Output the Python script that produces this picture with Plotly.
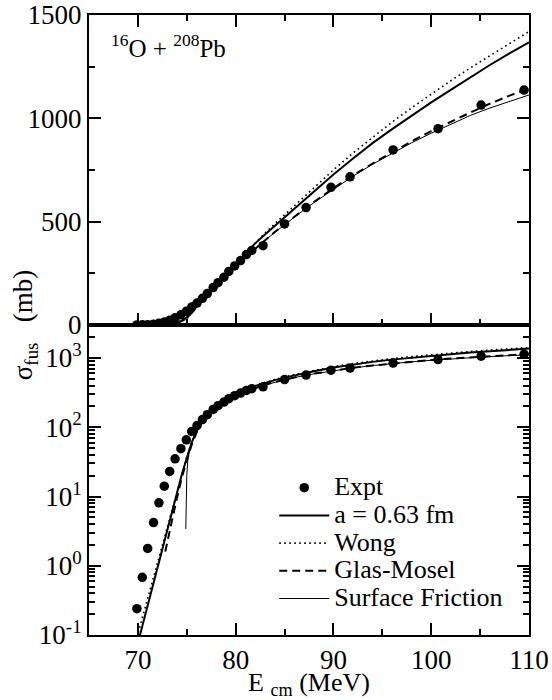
import plotly.graph_objects as go

# ---- data ----
expt_E = [69.9, 70.45, 71.0, 71.6, 72.15, 72.7, 73.25, 73.8, 74.4, 74.95, 75.5, 76.05,
          76.6, 77.1, 77.7, 78.2, 78.8, 79.3, 79.9, 80.5, 81.1, 81.65, 82.8, 85.0, 87.2,
          89.75, 91.7, 96.1, 100.7, 105.1, 109.5]
expt_sigma = [0.24, 0.68, 1.78, 4.2, 8.1, 14.1, 23, 35, 49, 66, 87, 106, 129, 152, 181,
              205, 231, 259, 286, 312, 341, 361, 384, 489, 568, 666, 717, 847, 950, 1064, 1137]

theory_E = [68, 69, 70, 70.5, 71, 71.5, 72, 72.5, 73, 73.5, 74, 74.5, 75, 75.5, 76, 76.5,
            77, 78, 79, 80, 81, 82, 83, 84, 85, 86, 88, 90, 92, 94, 96, 98, 100, 102, 104,
            106, 108, 110]
a063_sigma = [0.0063, 0.022, 0.078, 0.146, 0.273, 0.511, 0.957, 1.79, 3.36, 6.29, 11.8, 21,
              36, 60, 88, 117, 145, 196, 246, 296, 346, 395, 438, 480, 521, 562, 645, 728,
              806, 880, 948, 1013, 1077, 1138, 1199, 1258, 1314, 1368]
wong_sigma = [0.0098, 0.032, 0.106, 0.192, 0.349, 0.632, 1.15, 2.08, 3.77, 6.84, 12.4, 22,
              37.5, 61, 89, 119, 148, 199, 250, 300, 350, 400, 445, 490, 534, 577, 664, 750,
              832, 909, 982, 1051, 1118, 1182, 1244, 1304, 1362, 1420]

gm_E = [72.8, 73, 73.5, 74, 74.5, 75, 75.5, 76, 76.5, 77, 78, 79, 80, 81, 82, 83, 84, 85,
        86, 88, 90, 92, 94, 96, 98, 100, 102, 104, 106, 108, 110]
gm_sigma = [1.6, 2.2, 4.6, 9.5, 19, 33, 56, 84, 113, 141, 190, 238, 284, 328, 370, 411, 450,
            488, 524, 595, 662, 724, 781, 836, 889, 938, 984, 1028, 1071, 1110, 1145]

sf_E = [74.9, 74.95, 75.0, 75.1, 75.3, 75.6, 76, 76.5, 77, 78, 79, 80, 81, 82, 83, 84, 85,
        86, 88, 90, 92, 94, 96, 98, 100, 102, 104, 106, 108, 110]
sf_sigma = [3.4, 10, 20, 33, 48, 66, 88, 115, 140, 190, 238, 284, 328, 370, 410, 448, 486,
            522, 592, 658, 720, 778, 832, 882, 928, 972, 1014, 1050, 1083, 1113]

x_major = [70, 80, 90, 100, 110]
x_minor = [65, 75, 85, 95, 105]
lin_major = [0, 500, 1000, 1500]
lin_minor = [250, 750, 1250]
log_major = [0.1, 1, 10, 100, 1000]
log_labels = ["10<sup>-1</sup>", "10<sup>0</sup>", "10<sup>1</sup>", "10<sup>2</sup>", "10<sup>3</sup>"]
log_minor = [m * d for d in [0.1, 1, 10, 100, 1000] for m in range(2, 10) if m * d <= 3000]

FONT = "Liberation Serif"

series = [
    dict(name="Expt", x=expt_E, y=expt_sigma, mode="markers",
         marker=dict(color="black", size=9.5), line=None),
    dict(name="a = 0.63 fm", x=theory_E, y=a063_sigma, mode="lines", marker=None,
         line=dict(color="black", width=2)),
    dict(name="Wong", x=theory_E, y=wong_sigma, mode="lines", marker=None,
         line=dict(color="black", width=1.6, dash="1.6px,3.4px")),
    dict(name="Glas-Mosel", x=gm_E, y=gm_sigma, mode="lines", marker=None,
         line=dict(color="black", width=2, dash="8px,5px")),
    dict(name="Surface Friction", x=sf_E, y=sf_sigma, mode="lines", marker=None,
         line=dict(color="black", width=1)),
]

fig = go.Figure()
for s in series:
    for xa, ya, show in [("x", "y", True), ("x2", "y2", False)]:
        kw = dict(x=s["x"], y=s["y"], mode=s["mode"],
                  name='<span style="font-size:26px">' + s["name"] + "</span>",
                  xaxis=xa, yaxis=ya, showlegend=show, legendgroup=s["name"])
        if s["marker"] is not None:
            kw["marker"] = s["marker"]
        if s["line"] is not None:
            kw["line"] = s["line"]
        fig.add_trace(go.Scatter(**kw))

axis_common = dict(showgrid=False, zeroline=False, linecolor="black", linewidth=2,
                   ticks="inside", ticklen=12, tickwidth=1.5, tickcolor="black",
                   automargin=False,
                   tickfont=dict(family=FONT, size=27, color="black"))

fig.update_layout(
    width=552, height=700,
    margin=dict(l=89, r=23, t=15, b=65, autoexpand=False),
    paper_bgcolor="white", plot_bgcolor="white",
    font=dict(family=FONT, size=27, color="black"),
    xaxis=dict(**axis_common, range=[65, 110], domain=[0, 1], anchor="y",
               tickmode="array", tickvals=x_major, mirror=True,
               minor=dict(ticks="inside", ticklen=6, tickwidth=1.5, tickcolor="black",
                          tickmode="array", tickvals=x_minor),
               title=dict(text="E <sub>cm</sub> (MeV)", standoff=0,
                          font=dict(family=FONT, size=26))),
    yaxis=dict(**axis_common, type="log", range=[-1, 3.477], domain=[0, 0.5], anchor="x",
               tickmode="array", tickvals=log_major, ticktext=log_labels, mirror="allticks",
               minor=dict(ticks="inside", ticklen=6, tickwidth=1.5, tickcolor="black",
                          tickmode="array", tickvals=log_minor)),
    xaxis2=dict(**axis_common, range=[65, 110], domain=[0, 1], anchor="y2", matches="x",
                tickmode="array", tickvals=x_major, showticklabels=False, mirror="allticks",
                minor=dict(ticks="inside", ticklen=6, tickwidth=1.5, tickcolor="black",
                           tickmode="array", tickvals=x_minor)),
    yaxis2=dict(**axis_common, range=[0, 1500], domain=[0.5, 1], anchor="x2",
                tickmode="array", tickvals=lin_major, mirror="allticks",
                minor=dict(ticks="inside", ticklen=6, tickwidth=1.5, tickcolor="black",
                           tickmode="array", tickvals=lin_minor)),
    legend=dict(x=0.421, y=0.268, xanchor="left", yanchor="top",
                bgcolor="rgba(0,0,0,0)", borderwidth=0, itemwidth=50,
                font=dict(family=FONT, size=19, color="black"),
                tracegroupgap=0),
    annotations=[
        dict(text="<sup>16</sup>O + <sup>208</sup>Pb", xref="paper", yref="paper",
             x=0.045, y=0.979, xanchor="left", yanchor="top", showarrow=False,
             font=dict(family=FONT, size=25, color="black")),
        dict(text="σ<sub>fus</sub>   (mb)", xref="paper", yref="paper",
             x=-0.145, y=0.5, xanchor="center", yanchor="middle", textangle=-90,
             showarrow=False, font=dict(family=FONT, size=27, color="black")),
    ],
)

fig.write_html("out.html")
